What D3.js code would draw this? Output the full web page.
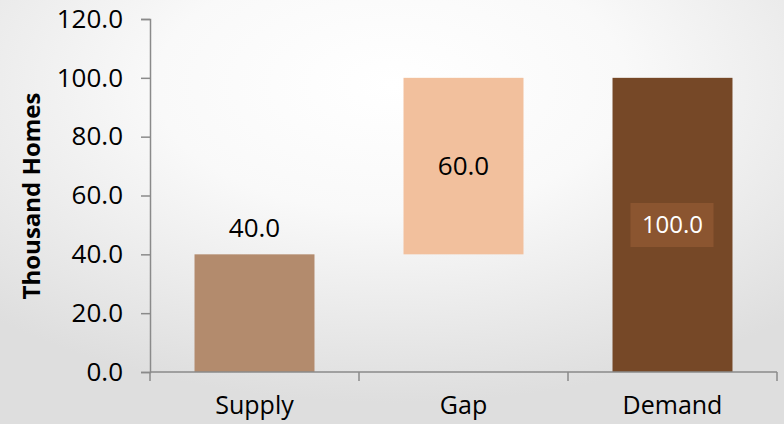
<!DOCTYPE html>
<html>
<head>
<meta charset="utf-8">
<script src="https://cdn.jsdelivr.net/npm/d3@7"></script>
<style>
  body { margin: 0; }
  svg { display: block; font-family: 'Open Sans', sans-serif; }
</style>
</head>
<body>
<svg width="784" height="424"></svg>
<script>
var categories = ['Supply', 'Gap', 'Demand'];
var starts = [0, 40, 0];
var ends = [40, 100, 100];
var values = [40.0, 60.0, 100.0];
var colors = ['#b38b6d', '#f2c09d', '#764827'];
var yTicks = [0, 20, 40, 60, 80, 100, 120];

var svg = d3.select('svg'),
  width = +svg.attr('width'),
  height = +svg.attr('height');

// background glow
var defs = svg.append('defs');
var grad = defs
  .append('radialGradient')
  .attr('id', 'bg')
  .attr('cx', '50%')
  .attr('cy', '20%')
  .attr('r', '75%');
grad.append('stop').attr('offset', '0%').attr('stop-color', '#ffffff');
grad.append('stop').attr('offset', '40%').attr('stop-color', '#f9f9f9');
grad.append('stop').attr('offset', '100%').attr('stop-color', '#dedede');
svg
  .append('rect')
  .attr('width', width)
  .attr('height', height)
  .attr('fill', 'url(#bg)');

var x = d3
  .scaleBand()
  .domain(categories)
  .range([150, 777])
  .paddingInner(0.426)
  .paddingOuter(0.213);

var y = d3
  .scaleLinear()
  .domain([0, 120])
  .range([372, 19]);

var data = categories.map(function(c, i) {
  return { cat: c, start: starts[i], end: ends[i], value: values[i], color: colors[i] };
});

// bars
svg
  .append('g')
  .selectAll('rect')
  .data(data)
  .enter()
  .append('rect')
  .attr('x', function(d) {
    return x(d.cat);
  })
  .attr('width', x.bandwidth())
  .attr('y', function(d) {
    return y(d.end);
  })
  .attr('height', function(d) {
    return y(d.start) - y(d.end);
  })
  .attr('fill', function(d) {
    return d.color;
  });

// axes
var axisColor = '#8a8a8a';
var yAxis = svg
  .append('g')
  .attr('transform', 'translate(150,0)')
  .call(
    d3
      .axisLeft(y)
      .tickValues(yTicks)
      .tickSize(9)
      .tickPadding(18)
      .tickFormat(d3.format('.1f'))
  );
yAxis.select('.domain').attr('stroke', axisColor).attr('stroke-width', 1.5);
yAxis.selectAll('.tick line').attr('stroke', axisColor).attr('stroke-width', 1.5);
yAxis
  .selectAll('.tick text')
  .attr('fill', '#000')
  .style('font-size', '26px')
  .style('font-family', "'Open Sans', sans-serif");

var step = x.step();
var xAxisG = svg.append('g');
xAxisG
  .append('line')
  .attr('x1', 150)
  .attr('x2', 777)
  .attr('y1', y(0))
  .attr('y2', y(0))
  .attr('stroke', axisColor)
  .attr('stroke-width', 1.5);

var bounds = [x.range()[0]].concat(
  categories.map(function(c) {
    return x(c) + x.bandwidth() / 2 + step / 2;
  })
);
xAxisG
  .selectAll('.xt')
  .data(bounds)
  .enter()
  .append('line')
  .attr('x1', function(d) {
    return d;
  })
  .attr('x2', function(d) {
    return d;
  })
  .attr('y1', y(0))
  .attr('y2', y(0) + 9)
  .attr('stroke', axisColor)
  .attr('stroke-width', 1.5);

xAxisG
  .selectAll('.xl')
  .data(categories)
  .enter()
  .append('text')
  .attr('x', function(d) {
    return x(d) + x.bandwidth() / 2;
  })
  .attr('y', 414)
  .attr('text-anchor', 'middle')
  .style('font-size', '25px')
  .text(function(d) {
    return d;
  });

// y title
svg
  .append('text')
  .attr('transform', 'translate(40,196) rotate(-90)')
  .attr('text-anchor', 'middle')
  .style('font-size', '24px')
  .style('font-weight', 'bold')
  .text('Thousand Homes');

// value labels
var fmt = d3.format('.1f');

// Supply: above the bar
svg
  .append('text')
  .attr('x', x('Supply') + x.bandwidth() / 2)
  .attr('y', y(ends[0]) - 26)
  .attr('dy', '0.35em')
  .attr('text-anchor', 'middle')
  .style('font-size', '26px')
  .text(fmt(values[0]));

// Gap: centre of floating bar
svg
  .append('text')
  .attr('x', x('Gap') + x.bandwidth() / 2)
  .attr('y', y((starts[1] + ends[1]) / 2))
  .attr('dy', '0.35em')
  .attr('text-anchor', 'middle')
  .style('font-size', '26px')
  .text(fmt(values[1]));

// Demand: boxed label inside bar
var dx = x('Demand') + x.bandwidth() / 2;
var dy = 225;
svg
  .append('rect')
  .attr('x', dx - 42)
  .attr('y', dy - 22)
  .attr('width', 83)
  .attr('height', 44)
  .attr('fill', '#8b5530');
svg
  .append('text')
  .attr('x', dx)
  .attr('y', dy)
  .attr('dy', '0.35em')
  .attr('text-anchor', 'middle')
  .attr('fill', '#fff')
  .style('font-size', '24px')
  .text(fmt(values[2]));
</script>
</body>
</html>
